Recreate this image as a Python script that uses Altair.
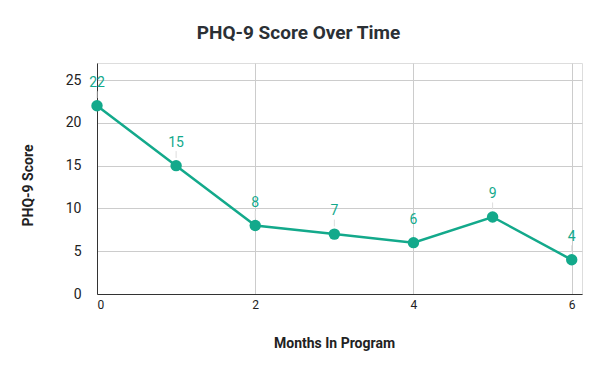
import altair as alt
import pandas as pd

months = [0, 1, 2, 3, 4, 5, 6]
scores = [22, 15, 8, 7, 6, 9, 4]

df = pd.DataFrame({"month": months, "score": scores})

TEAL = "#13a98b"
FONT = "Roboto"

x = alt.X("month:Q",
          scale=alt.Scale(domain=[0, 6.13], nice=False, zero=False),
          axis=alt.Axis(values=[0, 2, 4, 6], title="Months In Program",
                        grid=True, gridColor="#cccccc", ticks=False,
                        domainColor="#333333", labelFontSize=12, labelColor="#222222",
                        labelFont=FONT, labelPadding=5,
                        titleFont=FONT, titleFontSize=14, titleFontWeight="bold",
                        titleColor="#222222", titleX=237, titleY=49,
                        titleBaseline="middle", titleAnchor="start", titleAlign="center"))
y = alt.Y("score:Q",
          scale=alt.Scale(domain=[0, 27], nice=False),
          axis=alt.Axis(values=[0, 5, 10, 15, 20, 25], title="PHQ-9 Score",
                        grid=True, gridColor="#cccccc", ticks=False,
                        domainColor="#333333", labelFontSize=14, labelColor="#222222",
                        labelFont=FONT, labelPadding=16,
                        titleFont=FONT, titleFontSize=14, titleFontWeight="bold",
                        titleColor="#222222", titleX=-69, titleY=122,
                        titleAngle=-90, titleBaseline="middle", titleAlign="center"))

base = alt.Chart(df)

line = base.mark_line(color=TEAL, strokeWidth=2.5).encode(x=x, y=y)
pts = base.mark_circle(color=TEAL, size=130, opacity=1).encode(x=x, y=y)
leaders = base.transform_calculate(
    y1="datum.score + 0.9", y2="datum.score + 1.7"
).mark_rule(color="#dddddd", strokeWidth=1).encode(
    x=x, y=alt.Y("y1:Q"), y2="y2:Q")
labels = base.mark_text(color=TEAL, font=FONT, fontSize=14, dy=-23,
                        baseline="middle").encode(x=x, y=y, text="score:Q")

chart = alt.layer(leaders, line, pts, labels).properties(
    width=485, height=231,
    title=alt.TitleParams("PHQ-9 Score Over Time", font=FONT, fontSize=19,
                          fontWeight="bold", color="#2b3035", anchor="middle",
                          dx=-41, offset=20),
    autosize=alt.AutoSizeParams(type="none"),
    padding={"left": 89, "top": 55, "right": 10, "bottom": 60},
).configure_view(stroke=None).configure(background="white")

chart.save("out.html", embed_options={"renderer": "svg", "actions": False})
